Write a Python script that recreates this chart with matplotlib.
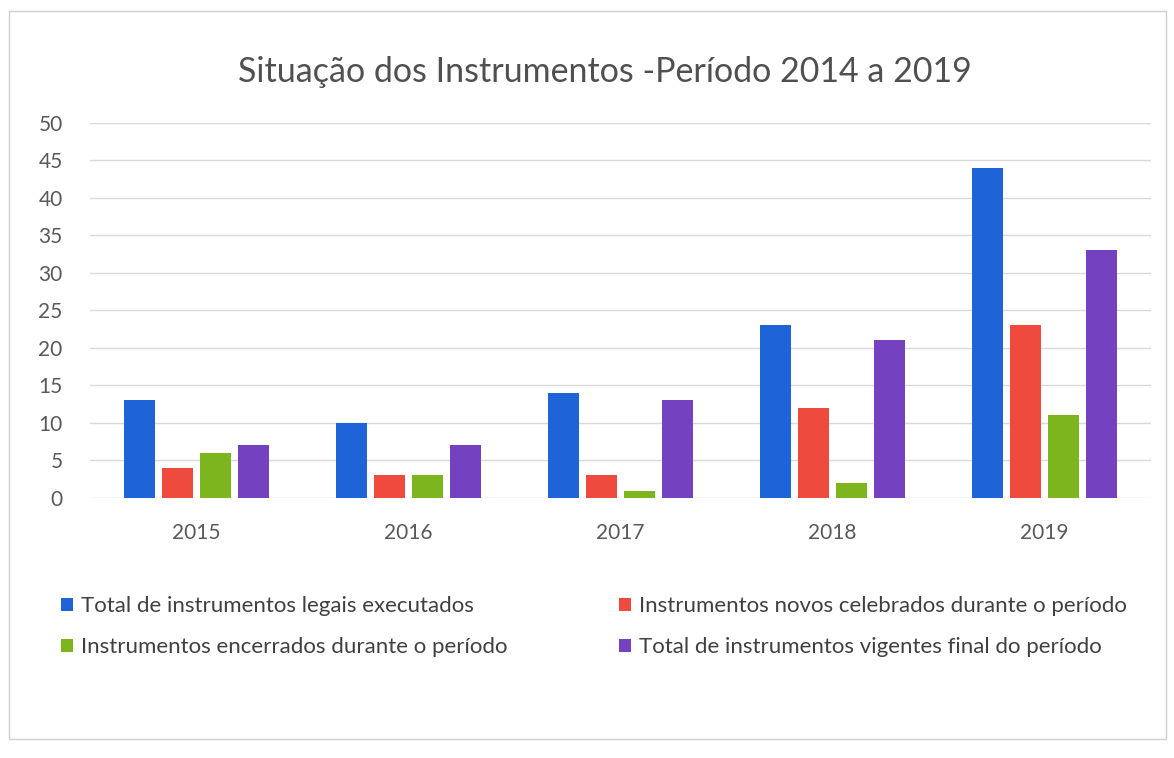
import matplotlib
matplotlib.use("Agg")
import matplotlib.pyplot as plt
import numpy as np
from matplotlib.patches import Rectangle

plt.rcParams['font.family'] = ['Lato', 'DejaVu Sans']

years = ["2015", "2016", "2017", "2018", "2019"]
executados = [13, 10, 14, 23, 44]
novos = [4, 3, 3, 12, 23]
encerrados = [6, 3, 1, 2, 11]
vigentes = [7, 7, 13, 21, 33]

labels = ["Total de instrumentos legais executados",
          "Instrumentos novos celebrados durante o período",
          "Instrumentos encerrados durante o período",
          "Total de instrumentos vigentes final do período"]
colors = ["#1F63D9", "#EE4B3E", "#7DB51E", "#7441C0"]
title = "Situação dos Instrumentos -Período 2014 a 2019"
yticks = [0, 5, 10, 15, 20, 25, 30, 35, 40, 45, 50]

fig = plt.figure(figsize=(11.74, 7.58), dpi=100)
fig.patch.set_facecolor("white")
fig.add_artist(Rectangle((0.008, 0.025), 0.985, 0.96, transform=fig.transFigure,
                         fill=False, edgecolor="#D0D0D0", linewidth=1))

ax = fig.add_axes([0.077, 0.343, 0.903, 0.495])
x = np.arange(len(years))
w = 0.146
pitch = 0.18
series = [executados, novos, encerrados, vigentes]
handles = []
for i, (vals, c, lab) in enumerate(zip(series, colors, labels)):
    h = ax.bar(x + (i - 1.5) * pitch, vals, width=w, color=c, label=lab, zorder=3)
    handles.append(h)

ax.set_xlim(-0.5, len(years) - 0.5)
ax.set_ylim(0, 50)
ax.set_yticks(yticks)
ax.set_xticks(x)
ax.set_xticklabels(years)
ax.tick_params(axis="both", length=0, labelsize=15, colors="#595959")
ax.tick_params(axis="x", pad=18)
ax.tick_params(axis="y", pad=20)
ax.grid(axis="y", color="#D9D9D9", linewidth=1, zorder=0)
for s in ax.spines.values():
    s.set_visible(False)

fig.text(0.515, 0.905, title, ha="center", va="center", fontsize=24.5, color="#505050")

order = [0, 2, 1, 3]
leg = fig.legend([handles[k] for k in order], [labels[k] for k in order],
                 loc="upper left", bbox_to_anchor=(0.035, 0.24),
                 bbox_transform=fig.transFigure,
                 ncol=2, frameon=False, fontsize=16, labelcolor="#404040",
                 handlelength=0.55, handleheight=0.55, handletextpad=0.35,
                 columnspacing=5.0, labelspacing=0.95)

fig.savefig("out.png", dpi=100, facecolor="white")
